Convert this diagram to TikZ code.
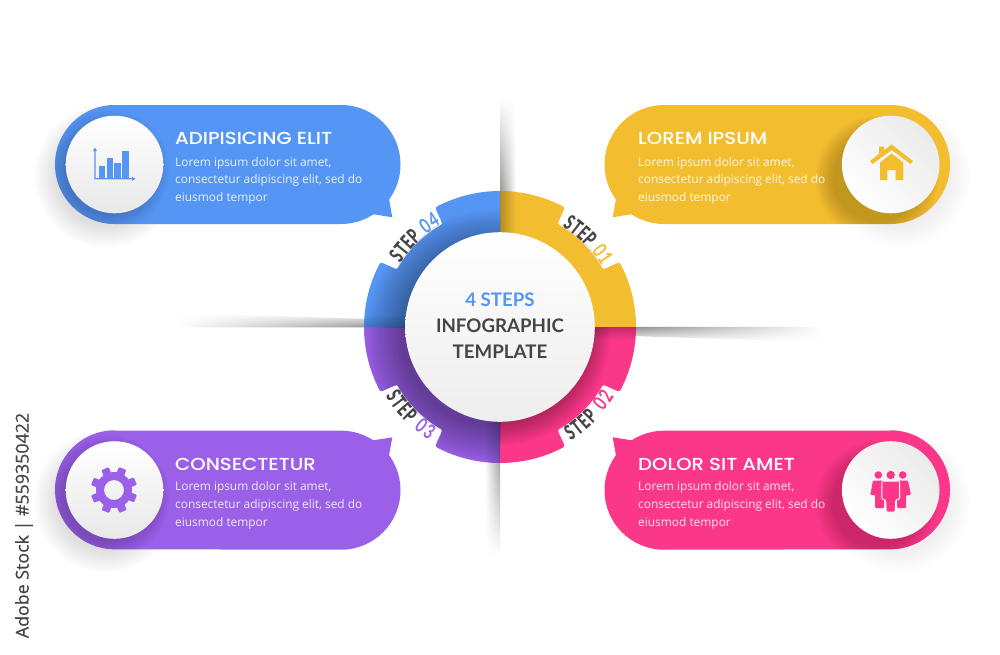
\documentclass[tikz,border=0pt]{standalone}
\usepackage{fontspec}
\usetikzlibrary{fadings}
\setmainfont{Open Sans}
\newfontfamily\headf{Poppins Medium}[FakeStretch=1.13]
\newfontfamily\latof{Lato}[BoldFont={Lato Bold}]
\newfontfamily\stepf{Lato Bold}[FakeBold=0.7]
\newfontfamily\stepd{Lato Bold}
\newfontfamily\sidef{Open Sans}[FakeBold=0.5]
\definecolor{cblue}{HTML}{5596F5}
\definecolor{cyel}{HTML}{F2BE30}
\definecolor{cpink}{HTML}{FB3789}
\definecolor{cpur}{HTML}{9A60E8}
\definecolor{ctxt}{HTML}{454545}
\tikzfading[name=fl, left color=transparent!0, right color=transparent!100]
\tikzfading[name=fr, right color=transparent!0, left color=transparent!100]
\tikzfading[name=ft, top color=transparent!0, bottom color=transparent!100]
\tikzfading[name=fb, bottom color=transparent!0, top color=transparent!100]
\newcommand{\sectorpath}[1]{(0,0) -- ({#1}:136) arc[start angle={#1}, end angle={#1+26.7}, radius=136pt]
 .. controls ({#1+28.5}:136) .. ({#1+28.7}:131) -- ({#1+29}:122)
 .. controls ({#1+29.3}:118) .. ({#1+31.5}:118)
 arc[start angle={#1+31.5}, end angle={#1+58.5}, radius=118pt]
 .. controls ({#1+60.7}:118) .. ({#1+61}:122) -- ({#1+61.3}:131)
 .. controls ({#1+61.5}:136) .. ({#1+63.3}:136)
 arc[start angle={#1+63.3}, end angle={#1+90}, radius=136pt] -- cycle}
\newcommand{\bubblepath}[2]{(114.5,#1) -- (341,#1) arc[start angle=-90,end angle=90,radius=59.5pt] -- (114.5,#2) arc[start angle=90,end angle=270,radius=59.5pt] -- cycle}
% soft round shadow built from stacked faint discs: centre, inner radius, outer radius, opacity per step
\newcommand{\softdisc}[4]{\foreach \sd in {0,...,15}{\fill[black,opacity=#4] #1 circle ({#3-(#3-#2)*\sd/15});}}
% faint halo along the floor of a notch
\newcommand{\notchhalo}[1]{\draw[black,opacity=.1,line width=1.6pt] ({#1+31}:119) arc[start angle={#1+31}, end angle={#1+59}, radius=119pt];}
\tikzset{
 headtxt/.style={anchor=base west,inner sep=0pt,text=white,font=\headf\fontsize{17.4}{20}\selectfont},
 bodytxt/.style={anchor=north west,inner sep=0pt,font=\fontsize{11.9}{17.6}\selectfont,align=left},
 midtxt/.style={inner sep=0pt,anchor=base,font=\latof\bfseries\fontsize{18.7}{20}\selectfont},
 lettertxt/.style={inner sep=0pt}
}
\newcommand{\stepletters}[7]{%
 \foreach \ch/\off/\cc/\ff/\sx in {S/0/ctxt/\stepf/0.64,T/4/ctxt/\stepf/0.64,E/8/ctxt/\stepf/0.64,P/12/ctxt/\stepf/0.64,#5/19/#7/\stepd/0.72,#6/23.5/#7/\stepd/0.72}{%
  \pgfmathsetmacro\aa{#2+#3*\off}%
  \pgfmathsetmacro\rr{#4>0 ? -(\aa+90) : 90-\aa}%
  \node[lettertxt,text=\cc,rotate=\rr,font=\ff\fontsize{20.5}{20}\selectfont] (#1\off) at (\aa:126) {\scalebox{\sx}[1]{\ch}};
 }}
\begin{document}
\begin{tikzpicture}[x=1pt,y=1pt,yscale=-1]
\useasboundingbox (0,0) rectangle (1000,654);
\fill[white] (0,0) rectangle (1000,654);

% fold shadows on the paper
\shade[left color=black!42,right color=white,path fading=fb] (500,100) -- (514,100) -- (516,195) -- (500,195) -- cycle;
\shade[right color=black!36,left color=white,path fading=ft] (500,460) -- (485,460) -- (486,555) -- (500,555) -- cycle;
\shade[bottom color=black!42,top color=white,path fading=fr] (178,313) -- (370,319) -- (370,327.4) -- (178,327.4) -- cycle;
\shade[top color=black!44,bottom color=white,path fading=fl] (630,326.8) -- (822,326.8) -- (822,342) -- (630,336) -- cycle;

% ring sectors
\begin{scope}[shift={(500,327)}]
 \notchhalo{-90}
 \notchhalo{0}
 \notchhalo{90}
 \notchhalo{180}
 \fill[cyel] \sectorpath{-90};
 \fill[cpink] \sectorpath{0};
 \fill[cpur] \sectorpath{90};
 \fill[cblue] \sectorpath{180};
 \begin{scope}
  \clip \sectorpath{-90};
  \fill[black,opacity=.25,path fading=fl] (0,-140) rectangle (16,-90);
 \end{scope}
 \begin{scope}
  \clip \sectorpath{0};
  \fill[black,opacity=.22,path fading=ft] (90,0) rectangle (140,13);
  \softdisc{(-3,5)}{92}{114}{.018}
 \end{scope}
 \begin{scope}
  \clip \sectorpath{90};
  \fill[black,opacity=.2,path fading=fr] (-16,90) rectangle (0,140);
  \softdisc{(-9,9)}{90}{126}{.024}
 \end{scope}
 \begin{scope}
  \clip \sectorpath{180};
  \fill[black,opacity=.18,path fading=fb] (-140,-13) rectangle (-90,0);
  \softdisc{(-9,9)}{90}{126}{.022}
 \end{scope}
 \shade[top color=white,bottom color=black!7] (0,0) circle (94.8);
 \stepletters{a}{-56.5}{1}{1}{0}{1}{cyel}
 \stepletters{b}{56.5}{-1}{-1}{0}{2}{cpink}
 \stepletters{c}{147.5}{-1}{-1}{0}{3}{cpur}
 \stepletters{d}{-145.5}{1}{1}{0}{4}{cblue}
\end{scope}

\node[midtxt,text=cblue] (mid1) at (500,306) {4 STEPS};
\node[midtxt,text=ctxt] (mid2) at (500,332.7) {INFOGRAPHIC};
\node[midtxt,text=ctxt] (mid3) at (500,358.3) {TEMPLATE};

% soft shadows below the bubbles
\softdisc{(106,176)}{50}{72}{.007}
\softdisc{(106,501)}{50}{72}{.007}
\softdisc{(899,176)}{50}{72}{.005}
\softdisc{(899,501)}{50}{72}{.005}

% BLUE
\begin{scope}
 \fill[cblue] \bubblepath{105}{224};
 \fill[cblue] (389,199) -- (392.3,217.3) -- (372,214) -- cycle;
 \begin{scope}
  \clip \bubblepath{105}{224};
  \softdisc{(108,171)}{44}{62}{.012}
 \end{scope}
 \shade[top color=white,bottom color=black!9] (114.5,164.5) circle (48.8);
 \fill[cblue] (94.3,150) rectangle (95.5,179.4) -- (133,179.4) -- (133,178.2) -- (95.5,178.2);
 \fill[cblue] (94.9,147.5) -- (97,151) -- (92.8,151) -- cycle;
 \fill[cblue] (135.5,178.8) -- (132,176.7) -- (132,180.9) -- cycle;
 \fill[cblue] (98.7,165.7) rectangle (105,177.5);
 \fill[cblue] (106.7,158.3) rectangle (113,177.5);
 \fill[cblue] (114.3,162.7) rectangle (120.7,177.5);
 \fill[cblue] (122.3,150.7) rectangle (129,177.5);
 \node[headtxt] (h4) at (175,144) {ADIPISICING ELIT};
 \node[bodytxt,text=white!85!cblue] (t4) at (175,157) {Lorem ipsum dolor sit amet,\\consectetur adipiscing elit, sed do\\eiusmod tempor};
\end{scope}

% PURPLE
\begin{scope}
 \fill[cpur] \bubblepath{430.7}{549.3};
 \fill[cpur] (389,455.5) -- (392.3,437.3) -- (372,440.5) -- cycle;
 \begin{scope}
  \clip \bubblepath{430.7}{549.3};
  \softdisc{(108,497)}{44}{62}{.012}
 \end{scope}
 \shade[top color=white,bottom color=black!9] (114.5,490) circle (48.8);
 \fill[cpur,even odd rule] (114,490) circle (18) (114,490) circle (10);
 \foreach \g in {0,45,...,315}{
  \fill[cpur,rotate around={\g+22:(114,490)},rounded corners=1pt] (110,466.8) rectangle (118,476);
 }
 \node[headtxt] (h3) at (175,470) {CONSECTETUR};
 \node[bodytxt,text=white!85!cpur] (t3) at (175,481.7) {Lorem ipsum dolor sit amet,\\consectetur adipiscing elit, sed do\\eiusmod tempor};
\end{scope}

% YELLOW
\begin{scope}
 \fill[cyel,shift={(1005,0)},xscale=-1] \bubblepath{105}{224};
 \fill[cyel] (616,199) -- (612.7,217.3) -- (633,214) -- cycle;
 \begin{scope}
  \clip[shift={(1005,0)},xscale=-1] \bubblepath{105}{224};
  \softdisc{(877,178)}{44}{62}{.012}
 \end{scope}
 \shade[left color=black!8,right color=white,shading angle=-45] (890.7,164.5) circle (48.8);
 \fill[cyel] (891.7,144.5) -- (912.9,161) -- (910.5,164) -- (891.7,150) -- (872.5,164) -- (870,161) -- (879,154) -- (879,146.5) -- (884,146.5) -- (884,150.2) -- cycle;
 \fill[cyel] (891.7,153.5) -- (903.3,162.5) -- (903.3,180) -- (895.7,180) -- (895.7,170) -- (887.3,170) -- (887.3,180) -- (880,180) -- (880,162.5) -- cycle;
 \node[headtxt] (h1) at (638,144) {LOREM IPSUM};
 \node[bodytxt,text=white!85!cyel] (t1) at (638,157) {Lorem ipsum dolor sit amet,\\consectetur adipiscing elit, sed do\\eiusmod tempor};
\end{scope}

% PINK
\begin{scope}
 \fill[cpink,shift={(1005,0)},xscale=-1] \bubblepath{430.7}{549.3};
 \fill[cpink] (616,455.5) -- (612.7,437.3) -- (633,440.5) -- cycle;
 \begin{scope}
  \clip[shift={(1005,0)},xscale=-1] \bubblepath{430.7}{549.3};
  \softdisc{(877,503)}{44}{62}{.012}
 \end{scope}
 \shade[left color=black!8,right color=white,shading angle=-45] (890.7,490) circle (48.8);
 \fill[cpink] (878.3,475) circle (3.8) (902.7,475) circle (3.8);
 \fill[cpink,rounded corners=1pt] (873,480.5) -- (884,480.5) -- (884,508) -- (875,508) -- (875,495) -- (870.3,495) -- cycle;
 \fill[cpink,rounded corners=1pt] (908,480.5) -- (897,480.5) -- (897,508) -- (906,508) -- (906,495) -- (911,495) -- cycle;
 \draw[white,line width=1pt,fill=cpink,rounded corners=1pt] (882,481) -- (899.5,481) -- (899.5,499) -- (895.8,500) -- (895.2,512) -- (886.2,512) -- (885.6,500) -- (881.8,499) -- cycle;
 \fill[cpink] (890.7,475) circle (4.2);
 \node[headtxt] (h2) at (638,470) {DOLOR SIT AMET};
 \node[bodytxt,text=white!85!cpink] (t2) at (638,481.7) {Lorem ipsum dolor sit amet,\\consectetur adipiscing elit, sed do\\eiusmod tempor};
\end{scope}

\node[rotate=90,inner sep=0pt,text=ctxt,font=\sidef\fontsize{17.8}{20}\selectfont] (side) at (24,525.5) {Adobe Stock | \#559350422};
\end{tikzpicture}
\end{document}
